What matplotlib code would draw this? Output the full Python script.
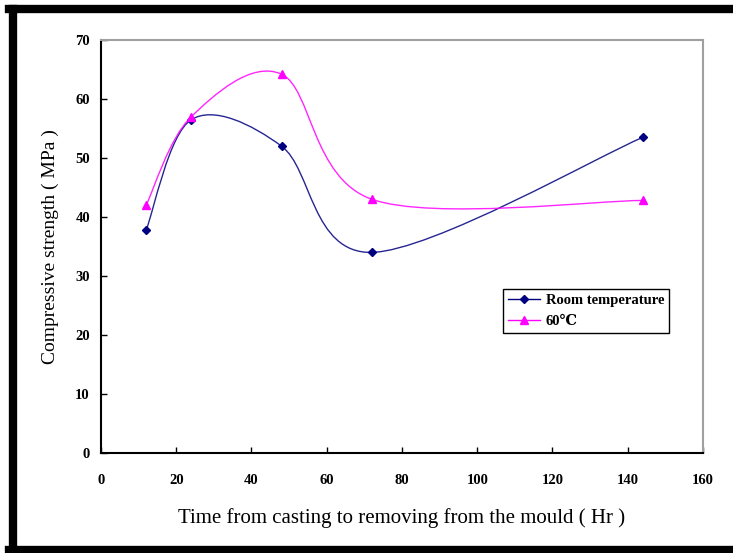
import matplotlib.pyplot as plt
from matplotlib.path import Path
from matplotlib.patches import PathPatch
from matplotlib.lines import Line2D

# curing time (hours) and compressive strength (MPa)
hours = [12, 24, 48, 72, 144]
room_temp = [37.8, 56.5, 52.0, 34.0, 53.5]
heated_60 = [42.0, 57.0, 64.2, 43.0, 42.8]

x_ticks = [0, 20, 40, 60, 80, 100, 120, 140, 160]
y_ticks = [0, 10, 20, 30, 40, 50, 60, 70]

plt.rcParams['font.family'] = ['Liberation Serif', 'DejaVu Serif']


def smooth_path(xs, ys):
    # Excel style smoothed line: cubic bezier, tangents from neighbouring points / 6
    n = len(xs)
    verts = [(xs[0], ys[0])]
    codes = [Path.MOVETO]
    for i in range(n - 1):
        p0 = max(i - 1, 0)
        p3 = min(i + 2, n - 1)
        c1 = (xs[i] + (xs[i + 1] - xs[p0]) / 6, ys[i] + (ys[i + 1] - ys[p0]) / 6)
        c2 = (xs[i + 1] - (xs[p3] - xs[i]) / 6, ys[i + 1] - (ys[p3] - ys[i]) / 6)
        verts += [c1, c2, (xs[i + 1], ys[i + 1])]
        codes += [Path.CURVE4] * 3
    return Path(verts, codes)


fig = plt.figure(figsize=(7.33, 5.53), dpi=100)
ax = fig.add_axes([0.1378, 0.1808, 0.959 - 0.1378, 0.9277 - 0.1808])

series = [
    (room_temp, '#000080', 'D', 4.5, 'Room temperature'),
    (heated_60, '#ff00ff', '^', 6, '60\u2103'),
]
handles = []
for vals, color, marker, msize, label in series:
    ax.add_patch(PathPatch(smooth_path(hours, vals), facecolor='none',
                           edgecolor=color, lw=1.0, alpha=0.85))
    ax.plot(hours, vals, ls='none', marker=marker, ms=msize, color=color)
    handles.append(Line2D([], [], color=color, marker=marker, ms=msize, lw=1.0,
                          label=label))

ax.set_xlim(0, 160)
ax.set_ylim(0, 70)
ax.set_xticks(x_ticks)
ax.set_yticks(y_ticks)
ax.tick_params(direction='in', length=4, width=1, labelsize=10.5, pad=15)
ax.tick_params(axis='y', pad=8)
for lbl in ax.get_xticklabels() + ax.get_yticklabels():
    lbl.set_fontweight('bold')

ax.spines['left'].set_color('black')
ax.spines['bottom'].set_color('black')
ax.spines['top'].set_color('#a0a0a0')
ax.spines['right'].set_color('#a0a0a0')
for s in ax.spines.values():
    s.set_linewidth(1.5)

ax.set_xlabel('Time from casting to removing from the mould ( Hr )', fontsize=15,
              labelpad=15)
ax.set_ylabel('Compressive strength ( MPa )', fontsize=14, labelpad=12)

leg = ax.legend(handles=handles, loc='upper left', bbox_to_anchor=(0.655, 0.415),
                fancybox=False, framealpha=1, edgecolor='black',
                prop={'size': 10.5, 'weight': 'bold'}, handlelength=2.2,
                borderpad=0.35, labelspacing=0.5, handletextpad=0.4)
leg.get_frame().set_linewidth(1.0)

# thick outer border (right edge runs past the image)
for xs_, ys_ in [([9, 740], [9, 9]), ([12.5, 12.5], [9, 550]), ([9, 740], [550, 550])]:
    fig.add_artist(Line2D([x / 733 for x in xs_], [1 - y / 553 for y in ys_],
                          color='black', lw=6, transform=fig.transFigure))

fig.savefig('out.png', dpi=100)
